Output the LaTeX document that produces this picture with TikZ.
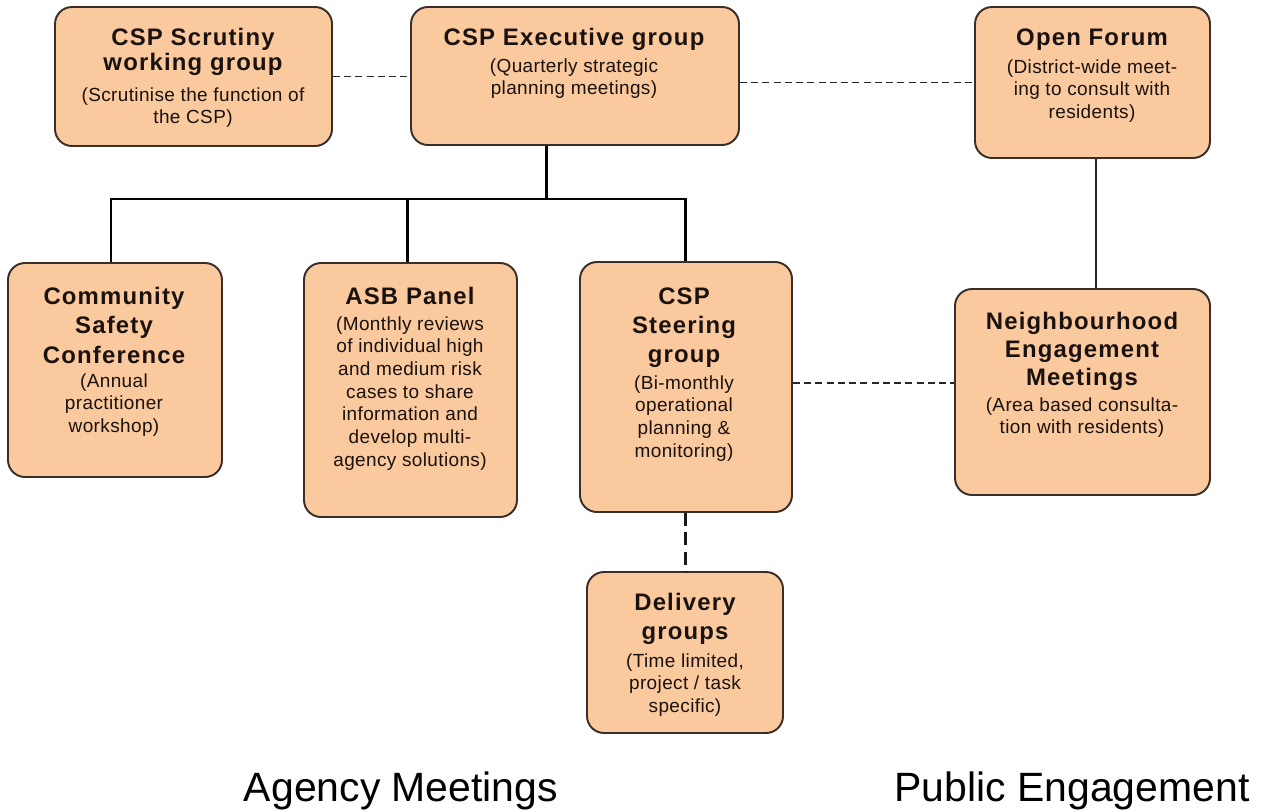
\documentclass[tikz,border=0pt]{standalone}
\usepackage{fontspec}
\setmainfont{Liberation Sans}
\newfontfamily\titlefont[LetterSpace=5]{Liberation Sans}
\newfontfamily\notefont[LetterSpace=2]{Liberation Sans}
\usetikzlibrary{fit}
\definecolor{boxfill}{RGB}{250,201,157}
\definecolor{boxdraw}{RGB}{58,46,40}
\definecolor{ink}{RGB}{26,18,16}
\begin{document}
\begin{tikzpicture}[x=0.02cm,y=-0.02cm,
  box/.style={draw=boxdraw, fill=boxfill, line width=1.1pt, rounded corners=0.34cm, inner sep=0pt},
  boxtitle/.style={anchor=north, inner sep=0pt, align=center, text=ink, font=\titlefont\fontsize{13.6pt}{16.6pt}\selectfont\bfseries},
  boxnote/.style={anchor=north, inner sep=0pt, align=center, text=ink, font=\notefont\fontsize{10.8pt}{12.9pt}\selectfont},
  treeline/.style={line width=1.7pt, draw=black},
  thinline/.style={line width=0.9pt, draw=black!85},
  dashlink/.style={line width=0.85pt, draw=black!85, dash pattern=on 4pt off 2.4pt},
  thickdash/.style={line width=1.7pt, draw=black!90, dash pattern=on 7.5pt off 3.5pt},
  footer/.style={anchor=base, inner sep=0pt, text=black, font=\fontsize{23.3pt}{27pt}\selectfont}]
\useasboundingbox (0,0) rectangle (1263,811);
\fill[white] (0,0) rectangle (1263,811);

% boxes
\node[box, fit={(55,7) (332,146)}] (scr) {};
\node[box, fit={(411,7) (739,145)}] (exe) {};
\node[box, fit={(975,7) (1210,158)}] (opf) {};
\node[box, fit={(8,263) (222,477)}] (com) {};
\node[box, fit={(304,263) (517,517)}] (asb) {};
\node[box, fit={(580,262) (792,512)}] (ste) {};
\node[box, fit={(955,289) (1210,495)}] (nei) {};
\node[box, fit={(587,572) (783,733)}] (del) {};

% texts
\node[boxtitle, font=\titlefont\fontsize{13.6pt}{14.4pt}\selectfont\bfseries] (scrT) at (193,28) {CSP Scrutiny\\working group};
\node[boxnote] (scrN) at (193,87) {(Scrutinise the function of\\the CSP)};

\node[boxtitle] (exeT) at (574,28) {CSP Executive group};
\node[boxnote] (exeN) at (574,58) {(Quarterly strategic\\planning meetings)};

\node[boxtitle] (opfT) at (1092,28) {Open Forum};
\node[boxnote] (opfN) at (1092,59) {(District-wide meet-\\ing to consult with\\residents)};

\node[boxtitle] (comT) at (114,287) {Community\\Safety\\Conference};
\node[boxnote] (comN) at (114,373) {(Annual\\practitioner\\workshop)};

\node[boxtitle] (asbT) at (410,287) {ASB Panel};
\node[boxnote] (asbN) at (410,316) {(Monthly reviews\\of individual high\\and medium risk\\cases to share\\information and\\develop multi-\\agency solutions)};

\node[boxtitle] (steT) at (684,287) {CSP\\Steering\\group};
\node[boxnote] (steN) at (684,375) {(Bi-monthly\\operational\\planning \&\\monitoring)};

\node[boxtitle, font=\titlefont\fontsize{13.6pt}{16pt}\selectfont\bfseries] (neiT) at (1082,312) {Neighbourhood\\Engagement\\Meetings};
\node[boxnote] (neiN) at (1082,397) {(Area based consulta-\\tion with residents)};

\node[boxtitle] (delT) at (685,593) {Delivery\\groups};
\node[boxnote] (delN) at (685,653) {(Time limited,\\project / task\\specific)};

% footers
\node[footer] (agency) at (401,801) {Agency Meetings};
\node[footer] (public) at (1072,801) {Public Engagement};

% connectors
\coordinate (busC) at (546,199);
\coordinate (busL) at (111,199);
\coordinate (busM) at (407,199);
\coordinate (busR) at (685,199);
\draw[treeline] (busC |- exe.south) -- (busC);
\draw[treeline] (busL |- com.north) -- (busL) -- (busR) -- (busR |- ste.north);
\draw[treeline] (busM) -- (busM |- asb.north);

\draw[dashlink] (scr.east) -- (scr.east -| exe.west);
\draw[dashlink] (opf.west -| exe.east) -- (opf.west);
\coordinate (ofx) at (1096,0);
\draw[thinline] (ofx |- opf.south) -- (ofx |- nei.north);
\draw[dashlink] (ste.east |- 0,383) -- (nei.west |- 0,383);
\draw[thickdash] (busR |- ste.south) -- (busR |- del.north);
\end{tikzpicture}
\end{document}
